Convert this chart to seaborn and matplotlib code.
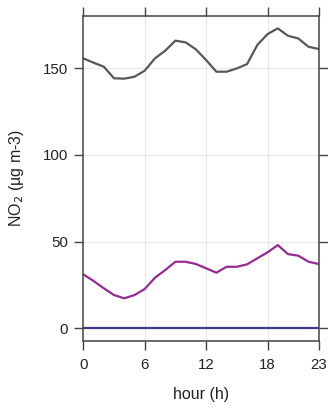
import numpy as np
import pandas as pd
import matplotlib
matplotlib.use("Agg")
import matplotlib.pyplot as plt
import seaborn as sns

hours = list(range(24))
series_a = [155.7, 153.2, 150.9, 144.2, 144.0, 145.1, 148.6, 155.7, 160.1, 165.9,
            164.9, 160.9, 154.7, 148.0, 148.0, 149.9, 152.4, 163.4, 169.7, 173.0,
            168.7, 167.2, 162.4, 161.1]
series_b = [31.1, 27.3, 23.1, 19.2, 17.3, 19.2, 22.7, 29.2, 33.6, 38.4,
            38.4, 37.1, 34.6, 32.1, 35.5, 35.5, 36.9, 40.4, 43.8, 48.0,
            42.8, 41.9, 38.4, 37.1]
series_c = [0.0] * 24
series_names = ["a", "b", "c"]
colors = ["#575757", "#952a95", "#3a3a8e"]
xticks = [0, 6, 12, 18, 23]
yticks = [0, 50, 100, 150]

sns.set_theme(style="white")
plt.rcParams['font.family'] = ['Liberation Sans', 'DejaVu Sans']

df = pd.DataFrame({
    "hour": hours * 3,
    "value": series_a + series_b + series_c,
    "series": [series_names[0]] * 24 + [series_names[1]] * 24 + [series_names[2]] * 24,
})

fig = plt.figure(figsize=(3.28, 4.09), dpi=100)
ax = fig.add_axes([0.254, 0.1663, 0.7177, 0.7953])

sns.lineplot(data=df, x="hour", y="value", hue="series", palette=colors,
             linewidth=1.6, ax=ax, legend=False, estimator=None)

ax.set_xlim(0, 23)
ax.set_ylim(-7.3, 180.3)
ax.set_xticks(xticks)
ax.set_yticks(yticks)
ax.set_xticklabels([str(t) for t in xticks])
ax.set_yticklabels([str(t) for t in yticks])

for x in [6, 12, 18]:
    ax.axvline(x, color="#e8e8e8", lw=0.9, zorder=0)
for y in [50, 100, 150]:
    ax.axhline(y, color="#e8e8e8", lw=0.9, zorder=0)

for s in ax.spines.values():
    s.set_color("#444444")
    s.set_linewidth(1.1)

ax.tick_params(axis="both", which="both", direction="out", length=6.5, width=1.0,
               color="#444444", labelsize=10.8, labelcolor="#222222",
               top=True, right=True, bottom=True, left=True,
               labeltop=False, labelright=False)
ax.tick_params(axis="y", pad=4.5)
ax.tick_params(axis="x", pad=5.5)

ax.set_xlabel("hour (h)", fontsize=11.5, color="#222222", labelpad=11)
ax.set_ylabel("NO$_2$ (µg m-3)", fontsize=11.5, color="#222222", labelpad=12)

fig.savefig("out.png", dpi=100)
